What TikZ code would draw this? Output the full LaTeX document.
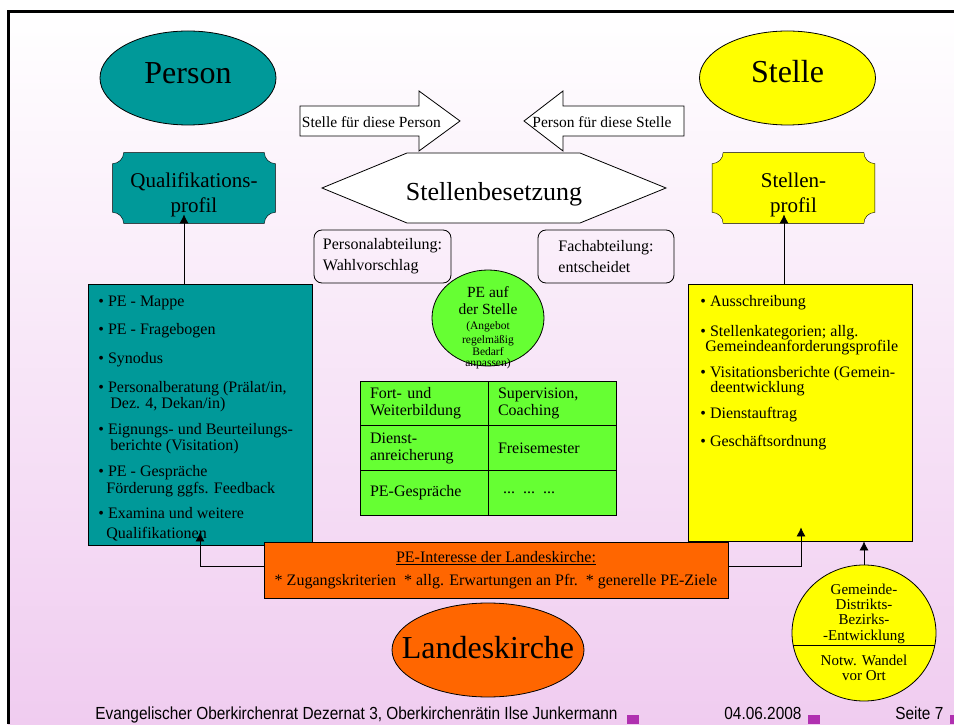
\documentclass[tikz,border=0pt]{standalone}
\usepackage{fontspec}
\setmainfont{Liberation Serif}
\newfontfamily\footfont[FakeStretch=0.88]{Liberation Sans}
\usetikzlibrary{arrows.meta,positioning,shapes.geometric,backgrounds}

\definecolor{pteal}{RGB}{0,153,153}
\definecolor{pyellow}{RGB}{255,255,0}
\definecolor{pgreen}{RGB}{102,255,51}
\definecolor{porange}{RGB}{255,102,0}
\definecolor{pmagenta}{RGB}{176,48,176}
\definecolor{bgpink}{RGB}{240,204,240}

\newcommand\pesmall{\fontsize{11.5}{12}\selectfont}
% plaque outline (concave corners) round an empty node: node, colour, radius
\newcommand\plaqueshape[3]{%
  \filldraw[fill=#2] ([xshift=#3]#1.north west) -- ([xshift=-#3]#1.north east)
    arc[start angle=180, end angle=270, radius=#3]
    -- ([yshift=#3]#1.south east)
    arc[start angle=90, end angle=180, radius=#3]
    -- ([xshift=#3]#1.south west)
    arc[start angle=0, end angle=90, radius=#3]
    -- ([yshift=-#3]#1.north west)
    arc[start angle=270, end angle=360, radius=#3] -- cycle;}

\tikzset{
  bigell/.style={ellipse, draw, minimum width=176, minimum height=94, inner sep=0},
  bigtext/.style={inner sep=0, font=\fontsize{32}{36}\selectfont},
  arrowtext/.style={inner sep=0, font=\fontsize{15.5}{17}\selectfont},
  plaque/.style={minimum width=162, minimum height=70, inner sep=0},
  plaquetext/.style={align=center, inner sep=0, font=\fontsize{21}{25}\selectfont},
  listbox/.style={draw, minimum width=224, inner sep=0},
  listtext/.style={align=left, inner sep=0, font=\fontsize{16}{16}\selectfont},
  deptbox/.style={draw, rounded corners=8pt, minimum width=137, minimum height=53,
    inner sep=0, align=left, font=\fontsize{16}{21}\selectfont},
  petext/.style={align=center, inner sep=0, font=\fontsize{15.5}{17}\selectfont},
  cell/.style={draw, fill=pgreen, outer sep=0, minimum height=44.7, text width=108,
    inner xsep=10, inner ysep=0, align=left, font=\fontsize{16}{17}\selectfont},
  gdetext/.style={align=center, inner sep=0, font=\fontsize{15}{15}\selectfont},
  foot/.style={inner sep=0, font=\footfont\fontsize{17.5}{20}\selectfont},
}

\begin{document}
\begin{tikzpicture}[x=1pt,y=1pt,>={Latex[length=9pt,width=9pt]}]
  \pgfsetlinewidth{0.8bp}
  \useasboundingbox (0,0) rectangle (954,724);
%%
\begin{scope}[on background layer]
  \fill[white] (0,0) rectangle (954,724);
  \shade[top color=white,bottom color=bgpink] (8,0) rectangle (954,712.5);
  \draw[line width=3pt] (8,0) -- (8,712.5) -- (954,712.5);
\end{scope}
  % Node: person
  \node[bigell, fill=pteal] (person) at (188,646) {};
  \node[bigtext] (persontxt) at (188,651) {Person};
  % Node: stelle
  \node[bigell, fill=pyellow] (stelle) at (787.5,646) {};
  \node[bigtext] (stelletxt) at (787.5,652) {Stelle};
  % Arrow shapes
  \draw[fill=white] (300,618) -- (419,618) -- (419,633) -- (460,603) -- (419,573) -- (419,588) -- (300,588) -- cycle;
  \node[arrowtext, anchor=west] (fuerperson) at (301.5,601.5) {Stelle für diese Person};
  \draw[fill=white] (684,618) -- (563,618) -- (563,633) -- (524,603) -- (563,573) -- (563,588) -- (684,588) -- cycle;
  \node[arrowtext, anchor=west] (fuerstelle) at (532,601.5) {Person für diese Stelle};
  % Node: besetzung
  \draw[fill=white] (322,536) -- (407,571) -- (580,571) -- (666,536) -- (580,501) -- (407,501) -- cycle;
  \node[inner sep=0, font=\fontsize{26}{30}\selectfont] (besetzung) at (494,530) {Stellenbesetzung};
  % Node: qual, stellprof
  \node[plaque] (qual) at (194,536) {};
  \node[plaquetext] (qualtxt) at (194,529) {Qualifikations-\\profil};
  \node[plaque] (stellprof) at (793.5,536) {};
  \node[plaquetext] (stellproftxt) at (793.5,529) {Stellen-\\profil};
\begin{scope}[on background layer]
  \plaqueshape{qual}{pteal}{11pt}
  \plaqueshape{stellprof}{pyellow}{11pt}
\end{scope}
  % Node: leftbox
  \node[listbox, fill=pteal, minimum height=261] (leftbox) at (200,309.5) {};
  \node[listtext, anchor=north west] (leftlist) at (98,428) {%
    \textbullet\ PE - Mappe\\[12pt]
    \textbullet\ PE - Fragebogen\\[13pt]
    \textbullet\ Synodus\\[13pt]
    \textbullet\ Personalberatung (Prälat/in,\\
    \hspace{12pt}Dez. 4, Dekan/in)\\[10pt]
    \textbullet\ Eignungs- und Beurteilungs-\\
    \hspace{12pt}berichte (Visitation)\\[10pt]
    \textbullet\ PE - Gespräche\\[1pt]
    \hspace{8pt}Förderung ggfs. Feedback\\[9pt]
    \textbullet\ Examina und weitere\\[4pt]
    \hspace{8pt}Qualifikationen};
  % Node: rightbox
  \node[listbox, fill=pyellow, minimum height=257] (rightbox) at (800,311.5) {};
  \node[listtext, anchor=north west] (rightlist) at (700,429.4) {%
    \textbullet\ Ausschreibung\\[14pt]
    \textbullet\ Stellenkategorien; allg.\\[-1pt]
    \hspace{5pt}Gemeindeanforderungsprofile\\[10pt]
    \textbullet\ Visitationsberichte (Gemein-\\[-1pt]
    \hspace{10pt}deentwicklung\\[10pt]
    \textbullet\ Dienstauftrag\\[12pt]
    \textbullet\ Geschäftsordnung};
  % Node: persabt, fachabt
  \node[deptbox] (persabt) at (382.5,467.5) {Personalabteilung:\\Wahlvorschlag};
  \node[deptbox, minimum width=136] (fachabt) at (606,467.5) {Fachabteilung:\\entscheidet};
  % Node: peauf
  \node[ellipse, draw, fill=pgreen, minimum width=112, minimum height=96, inner sep=0] (peauf) at (488,406) {};
  \node[petext, anchor=north] (peauftxt) at (488,437.6) {PE auf\\der Stelle\\[-2pt]
    \pesmall (Angebot\\[-3pt]\pesmall regelmäßig\\[-5pt]\pesmall Bedarf\\[-6pt]\pesmall anpassen)};
  % Table
  \node[cell] (fort) at (424,320.65) {Fort- und\\Weiterbildung};
  \node[cell, right=0pt of fort] (superv) {Supervision,\\Coaching};
  \node[cell, below=0pt of fort] (dienst) {Dienst-\\anreicherung};
  \node[cell, right=0pt of dienst] (freisem) {Freisemester};
  \node[cell, below=0pt of dienst] (pegespr) {PE-Gespräche};
  \node[cell, right=0pt of pegespr] (weitere) {\hspace{5pt}... ... ...};
  % Node: interesse
  \node[draw, fill=porange, minimum width=464, minimum height=56, inner sep=0, align=center,
    font=\fontsize{16}{23}\selectfont] (interesse) at (496,154)
    {\underline{PE-Interesse der Landeskirche:}\\* Zugangskriterien\ \ * allg. Erwartungen an Pfr.\ \ * generelle PE-Ziele};
  % Node: kirche
  \node[ellipse, draw, fill=porange, minimum width=192, minimum height=94, inner sep=0] (kirche) at (488,74) {};
  \node[bigtext] (kirchetxt) at (488,76) {Landeskirche};
  % Node: gde
  \node[ellipse, draw, fill=pyellow, minimum width=144, minimum height=136, inner sep=0] (gde) at (864,91) {};
  \draw (gde.center) ++(-70.9,-12) -- ++(141.8,0);
  \node[gdetext, anchor=north] (gdeoben) at (864,140.7) {Gemeinde-\\Distrikts-\\Bezirks-\\[1pt]-Entwicklung};
  \node[gdetext, anchor=north] (gdeunten) at (864,69.7) {Notw. Wandel\\vor Ort};
  % Edge: leftbox -> qual
  \draw[->] ([xshift=-16pt]leftbox.north) -- ([xshift=-10pt,yshift=9pt]qual.south);
  % Edge: rightbox -> stellprof
  \draw[->] ([xshift=-16pt]rightbox.north) -- ([xshift=-9.5pt,yshift=9pt]stellprof.south);
  % Edge: interesse -> leftbox
  \draw[->] ([yshift=4pt]interesse.west) -| ([yshift=13pt]leftbox.south);
  % Edge: interesse -> rightbox
  \draw[->] ([yshift=4pt]interesse.east) -| ([xshift=1pt,yshift=14pt]rightbox.south);
  % Edge: gde -> rightbox
  \draw[->] (gde.north) -- (gde.north |- rightbox.south);
  % Footer
  \node[foot, anchor=base west] (footname) at (95,4.3) {Evangelischer Oberkirchenrat Dezernat 3, Oberkirchenrätin Ilse Junkermann};
  \node[foot, anchor=base west] (footdate) at (724,4.3) {04.06.2008};
  \node[foot, anchor=base west] (footpage) at (895,4.3) {Seite 7};
  \fill[pmagenta] (627,0) rectangle (639,9);
  \fill[pmagenta] (808,0) rectangle (820,9);
  \fill[pmagenta] (950,0) rectangle (954,9);
%
\end{tikzpicture}
\end{document}
